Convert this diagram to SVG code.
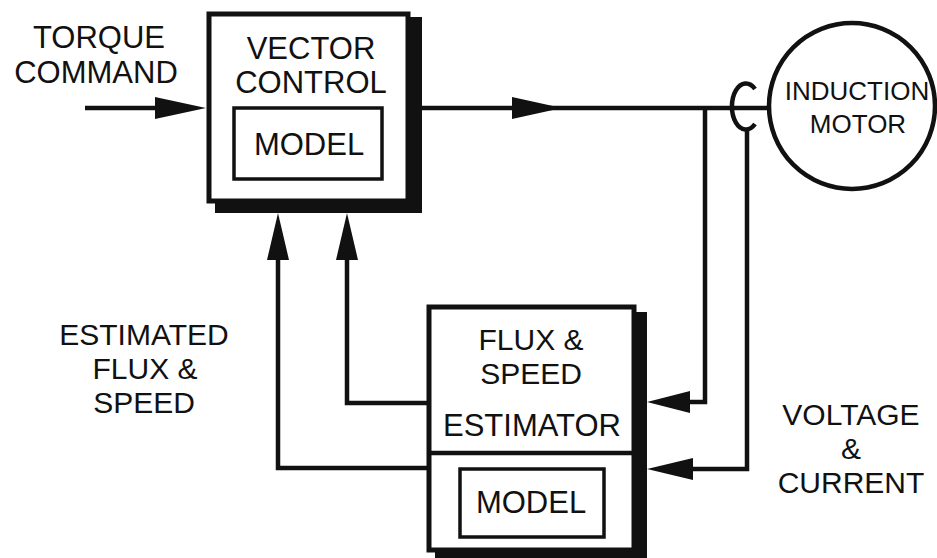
<svg xmlns="http://www.w3.org/2000/svg" width="937" height="558" viewBox="0 0 937 558">
<style>
.t{font-family:"Liberation Sans",Arial,sans-serif;font-size:31px;fill:#111;text-anchor:middle}
.s{font-size:30px}
.m{font-size:26px}
.box{fill:#fff;stroke:#111;stroke-width:5}
.inner{fill:none;stroke:#111;stroke-width:3.5}
.sh{fill:#111}
.ln{fill:none;stroke:#111;stroke-width:4.5}
.ah{fill:#111}
</style>
<rect width="937" height="558" fill="#fff"/>
<g id="torque-label">
<text class="t" x="99" y="48">TORQUE</text>
<text class="t" x="96" y="83">COMMAND</text>
</g>
<g id="vector-control">
<rect class="sh" x="215" y="17" width="207" height="196"/>
<rect class="box" x="209" y="14" width="199" height="187"/>
<text class="t" x="311" y="59">VECTOR</text>
<text class="t" x="311" y="93">CONTROL</text>
<rect class="inner" x="234" y="108" width="148" height="71"/>
<text class="t" x="309" y="155">MODEL</text>
</g>
<g id="induction-motor">
<circle cx="852" cy="106" r="83" fill="#fff" stroke="#111" stroke-width="4.5"/>
<text class="t m" x="857" y="100">INDUCTION</text>
<text class="t m" x="858" y="133">MOTOR</text>
</g>
<g id="estimator">
<rect class="sh" x="435" y="312" width="212" height="250"/>
<rect class="box" x="429" y="307" width="205" height="243"/>
<line x1="429" y1="453" x2="634" y2="453" stroke="#111" stroke-width="4.5"/>
<text class="t s" x="531" y="350">FLUX &amp;</text>
<text class="t s" x="531" y="384">SPEED</text>
<text class="t" x="532" y="436">ESTIMATOR</text>
<rect class="inner" x="460" y="469" width="144" height="68"/>
<text class="t" x="531" y="513">MODEL</text>
</g>
<g id="estimated-label">
<text class="t s" x="144" y="345">ESTIMATED</text>
<text class="t s" x="145" y="379">FLUX &amp;</text>
<text class="t s" x="144" y="413">SPEED</text>
</g>
<g id="voltage-label">
<text class="t s" x="851" y="425">VOLTAGE</text>
<text class="t s" x="851" y="459">&amp;</text>
<text class="t s" x="851" y="493">CURRENT</text>
</g>
<g id="connectors">
<line class="ln" x1="85" y1="108" x2="160" y2="108"/>
<polygon class="ah" points="155,97 206,108 155,119"/>
<line class="ln" x1="422" y1="108" x2="770" y2="108"/>
<polygon class="ah" points="512,97 562,108 512,119"/>
<path class="ln" d="M755,89 A14,23 0 1 0 755,124"/>
<path class="ln" d="M705,108 V402 H685"/>
<polygon class="ah" points="690,391 647,402 690,413"/>
<path class="ln" d="M747,128 V469 H688"/>
<polygon class="ah" points="693,458 647,469 693,480"/>
<path class="ln" d="M278,255 V468 H429"/>
<polygon class="ah" points="267,260 278,213 289,260"/>
<path class="ln" d="M347,255 V403 H429"/>
<polygon class="ah" points="336,260 347,213 358,260"/>
</g>
</svg>
